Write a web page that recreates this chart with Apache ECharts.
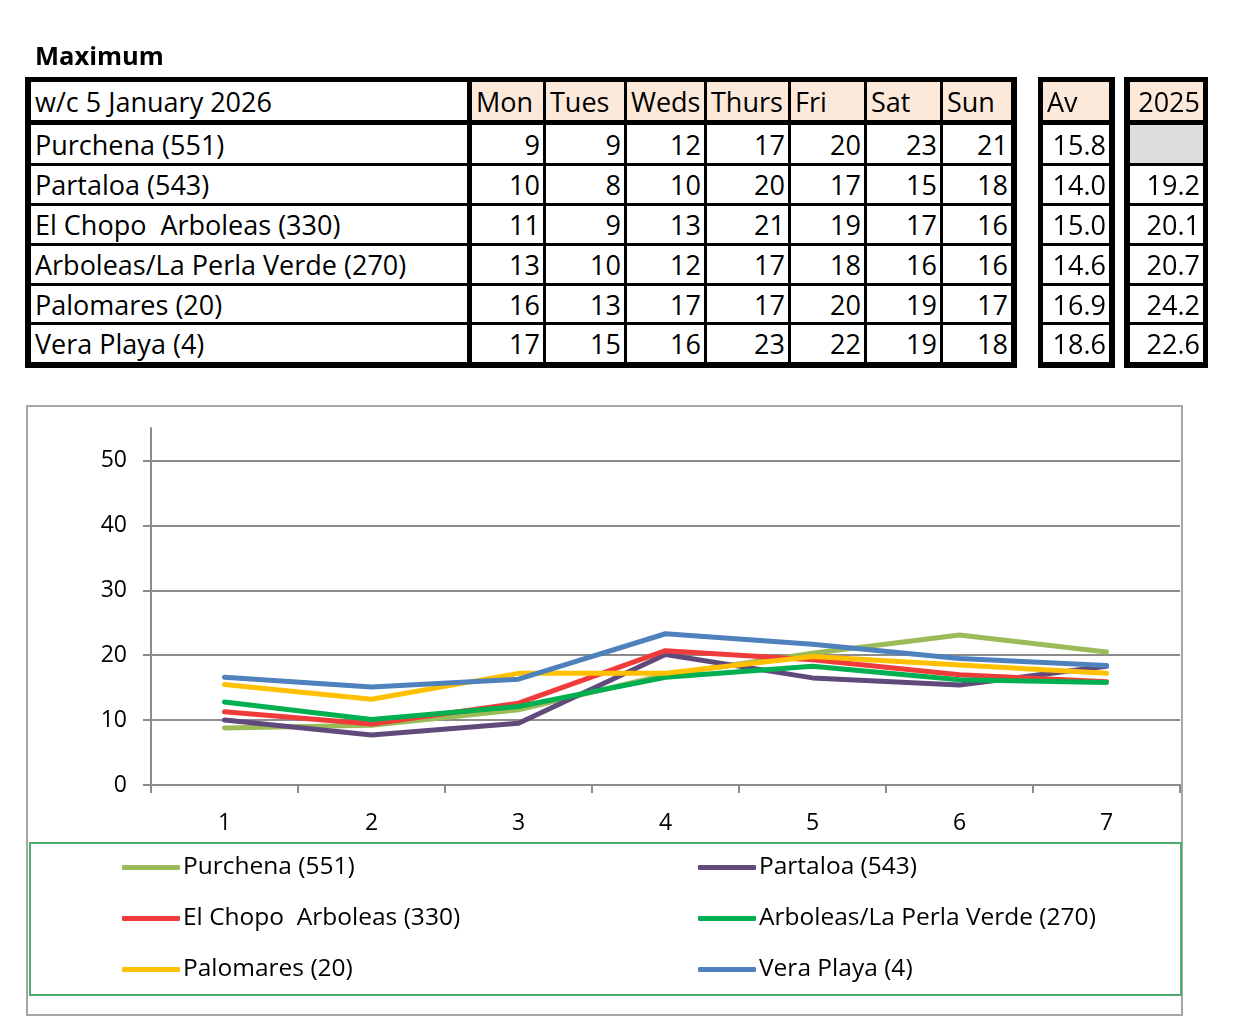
<!DOCTYPE html>
<html>
<head>
<meta charset="utf-8">
<script src="https://cdn.jsdelivr.net/npm/echarts@6/dist/echarts.min.js"></script>
<style>
  html, body { margin:0; padding:0; background:#fff; }
  body { width:1239px; height:1028px; position:relative; overflow:hidden; font-family:"Open Sans", Lato, sans-serif; }
  #chart { position:absolute; left:0; top:0; width:1239px; height:1028px; z-index:1; }
  .blk { position:absolute; background:#000; z-index:2; }
  .cell { position:absolute; box-sizing:border-box; font-size:27px; line-height:1; display:flex; align-items:center; white-space:pre; color:#000; padding:0 3px 0 4px; overflow:hidden; }
  #title { position:absolute; left:35px; top:41px; font-size:25.5px; font-weight:bold; z-index:2; line-height:1.1; }
</style>
</head>
<body>
<div id="chart"></div>
<div id="title">Maximum</div>
<script>
// ---------- data ----------
const weekLabel = "w/c 5 January 2026";
const dayHeaders = ["Mon", "Tues", "Weds", "Thurs", "Fri", "Sat", "Sun"];
const stations = ["Purchena (551)", "Partaloa (543)", "El Chopo  Arboleas (330)", "Arboleas/La Perla Verde (270)", "Palomares (20)", "Vera Playa (4)"];
const tablePurchena = [9, 9, 12, 17, 20, 23, 21];
const tablePartaloa = [10, 8, 10, 20, 17, 15, 18];
const tableElChopo = [11, 9, 13, 21, 19, 17, 16];
const tableArboleas = [13, 10, 12, 17, 18, 16, 16];
const tablePalomares = [16, 13, 17, 17, 20, 19, 17];
const tableVera = [17, 15, 16, 23, 22, 19, 18];
const averages = ["15.8", "14.0", "15.0", "14.6", "16.9", "18.6"];
const lastYear = [null, "19.2", "20.1", "20.7", "24.2", "22.6"];
const avHeader = "Av";
const lastYearHeader = "2025";

// chart (unrounded values as plotted)
const xCategories = ["1", "2", "3", "4", "5", "6", "7"];
const purchena = [8.8, 9.2, 11.6, 17.0, 20.3, 23.1, 20.5];
const partaloa = [10.0, 7.7, 9.5, 20.1, 16.5, 15.4, 18.3];
const elChopo = [11.3, 9.4, 12.6, 20.7, 19.3, 17.0, 15.9];
const arboleas = [12.8, 10.1, 12.1, 16.6, 18.3, 16.2, 15.8];
const palomares = [15.5, 13.2, 17.2, 17.2, 19.8, 18.5, 17.2];
const veraPlaya = [16.6, 15.1, 16.3, 23.3, 21.7, 19.5, 18.4];
const yTicks = [0, 10, 20, 30, 40, 50];

// ---------- table ----------
const PEACH = "#FDE9D9", GREY = "#DDDDDD";
const rowLines = [[77,82],[120,125],[163,166],[203,206],[243,246],[283,286],[322,325],[362,368]];
const tableRows = [tablePurchena, tablePartaloa, tableElChopo, tableArboleas, tablePalomares, tableVera];

function makeBlock(colLines, contentFn) {
  const x0 = colLines[0][0], x1 = colLines[colLines.length-1][1];
  const y0 = rowLines[0][0], y1 = rowLines[rowLines.length-1][1];
  const b = document.createElement('div');
  b.className = 'blk';
  b.style.left = x0 + 'px'; b.style.top = y0 + 'px';
  b.style.width = (x1 - x0) + 'px'; b.style.height = (y1 - y0) + 'px';
  document.body.appendChild(b);
  for (let r = 0; r < rowLines.length - 1; r++) {
    for (let c = 0; c < colLines.length - 1; c++) {
      const cx = colLines[c][1], cw = colLines[c+1][0] - cx;
      const cy = rowLines[r][1], ch = rowLines[r+1][0] - cy;
      const d = document.createElement('div');
      d.className = 'cell';
      d.style.left = (cx - x0) + 'px'; d.style.top = (cy - y0) + 'px';
      d.style.width = cw + 'px'; d.style.height = ch + 'px';
      const info = contentFn(r, c);
      d.textContent = info.text == null ? '' : info.text;
      d.style.background = info.bg || '#fff';
      d.style.justifyContent = info.align === 'right' ? 'flex-end' : 'flex-start';
      b.appendChild(d);
    }
  }
}

makeBlock([[25,31],[467,472],[543,546],[624,627],[704,707],[788,791],[864,867],[940,943],[1011,1017]], (r, c) => {
  if (r === 0) {
    if (c === 0) return { text: weekLabel, bg: '#fff' };
    return { text: dayHeaders[c-1], bg: PEACH };
  }
  if (c === 0) return { text: stations[r-1] };
  return { text: String(tableRows[r-1][c-1]), align: 'right' };
});
makeBlock([[1038,1043],[1109,1115]], (r, c) => {
  if (r === 0) return { text: avHeader, bg: PEACH };
  return { text: averages[r-1], align: 'right' };
});
makeBlock([[1124,1130],[1203,1208]], (r, c) => {
  if (r === 0) return { text: lastYearHeader, bg: PEACH, align: 'right' };
  const v = lastYear[r-1];
  return { text: v, align: 'right', bg: v == null ? GREY : '#fff' };
});

// ---------- chart ----------
const seriesDefs = [
  { name: stations[0], data: purchena, color: '#9BBB59' },
  { name: stations[1], data: partaloa, color: '#604A7B' },
  { name: stations[2], data: elChopo, color: '#F03B3B' },
  { name: stations[3], data: arboleas, color: '#00B050' },
  { name: stations[4], data: palomares, color: '#FFC000' },
  { name: stations[5], data: veraPlaya, color: '#4F81BD' }
];
const AXIS = '#8C8C8C';
const FONT = 'Open Sans';
const chart = echarts.init(document.getElementById('chart'), null, { renderer: 'canvas' });
const legendCommon = {
  orient: 'vertical', padding: 0, itemWidth: 58, itemHeight: 5, itemGap: 24,
  icon: 'roundRect', selectedMode: false,
  textStyle: { fontFamily: FONT, fontSize: 24.5, color: '#000', lineHeight: 27, padding: [0,0,0,-2] }
};
chart.setOption({
  animation: false,
  backgroundColor: 'transparent',
  textStyle: { fontFamily: FONT },
  graphic: [
    { type: 'rect', shape: { x: 27, y: 406, width: 1155, height: 609 }, style: { fill: 'none', stroke: '#A6A6A6', lineWidth: 2 }, z: -1 },
    { type: 'rect', shape: { x: 30, y: 843, width: 1151, height: 152 }, style: { fill: 'none', stroke: '#4CAE70', lineWidth: 2 }, z: -1 }
  ],
  legend: [
    Object.assign({ left: 122, top: 854, data: [stations[0], stations[2], stations[4]] }, legendCommon),
    Object.assign({ left: 698, top: 854, data: [stations[1], stations[3], stations[5]] }, legendCommon)
  ],
  grid: { left: 151, right: 59, top: 428, bottom: 243, containLabel: false },
  xAxis: {
    type: 'category', data: xCategories, boundaryGap: true,
    axisLine: { lineStyle: { color: AXIS, width: 2 } },
    axisTick: { show: true, length: 8, inside: false, alignWithLabel: false, lineStyle: { color: AXIS, width: 2 } },
    axisLabel: { color: '#000', fontSize: 23, fontFamily: FONT, margin: 27 },
    splitLine: { show: false }
  },
  yAxis: {
    type: 'value', min: 0, max: 55, interval: 10,
    axisLine: { show: true, lineStyle: { color: AXIS, width: 2 } },
    axisTick: { show: true, length: 8, inside: false, customValues: yTicks, lineStyle: { color: AXIS, width: 2 } },
    axisLabel: { color: '#000', fontSize: 23, fontFamily: FONT, margin: 24, customValues: yTicks },
    splitLine: { show: true, lineStyle: { color: AXIS, width: 2 } }
  },
  series: seriesDefs.map(s => ({
    name: s.name, type: 'line', data: s.data, showSymbol: false, symbol: 'none',
    itemStyle: { color: s.color },
    lineStyle: { color: s.color, width: 5, cap: 'round', join: 'round' },
    emphasis: { disabled: true }
  }))
});
</script>
</body>
</html>
